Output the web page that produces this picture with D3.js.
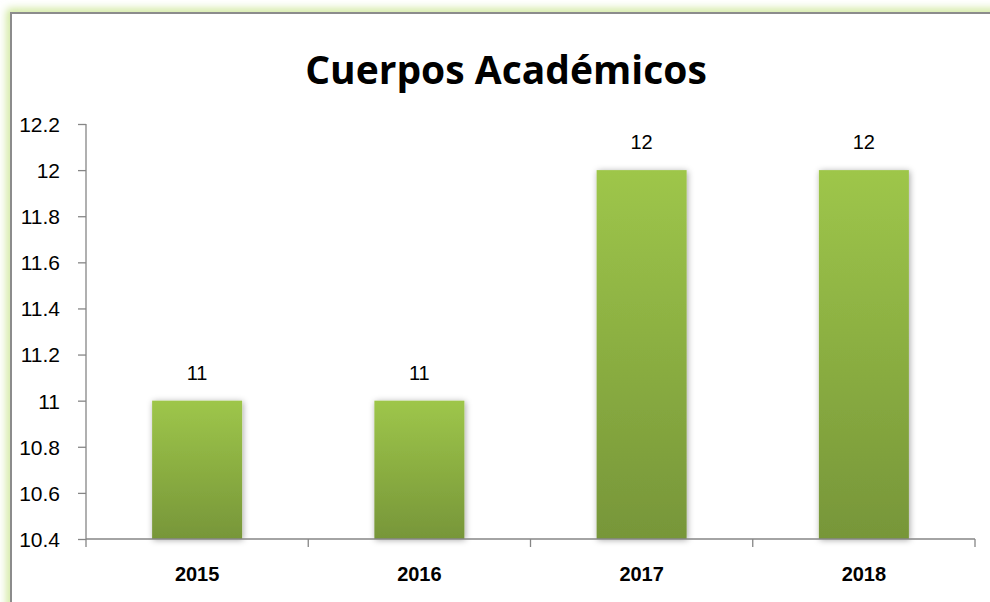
<!DOCTYPE html>
<html>
<head>
<meta charset="utf-8">
<script src="https://cdn.jsdelivr.net/npm/d3@7"></script>
<style>
  body { margin: 0; background: #fff; }
  svg { display: block; }
  .axis path, .axis line { stroke: #868686; stroke-width: 1.3; }
  .axis text { font-family: "Liberation Sans", Arial, sans-serif; fill: #000; }
</style>
</head>
<body>
<svg id="chart" width="990" height="602"></svg>
<script>
var years = ["2015", "2016", "2017", "2018"];
var values = [11, 11, 12, 12];
var yTicks = [10.4, 10.6, 10.8, 11, 11.2, 11.4, 11.6, 11.8, 12, 12.2];
var title = "Cuerpos Académicos";

var svg = d3.select("#chart");
var defs = svg.append("defs");

// outer glow of the frame
var glow = defs.append("filter").attr("id", "glow")
  .attr("x", "-5%").attr("y", "-5%").attr("width", "110%").attr("height", "110%");
glow.append("feGaussianBlur").attr("stdDeviation", 4);

var grad = defs.append("linearGradient").attr("id", "barGrad")
  .attr("x1", 0).attr("y1", 0).attr("x2", 0).attr("y2", 1);
grad.append("stop").attr("offset", "0%").attr("stop-color", "#9ec64a");
grad.append("stop").attr("offset", "100%").attr("stop-color", "#779639");

var shadow = defs.append("filter").attr("id", "shadow")
  .attr("x", "-20%").attr("y", "-10%").attr("width", "140%").attr("height", "120%");
shadow.append("feDropShadow").attr("dx", 1).attr("dy", 1).attr("stdDeviation", 3)
  .attr("flood-color", "#000").attr("flood-opacity", 0.35);

/* frame */
svg.append("rect").attr("x", 11).attr("y", 13).attr("width", 1000).attr("height", 620)
  .attr("fill", "none").attr("stroke", "#c9e58f").attr("stroke-width", 8)
  .attr("filter", "url(#glow)");
svg.append("rect").attr("x", 11).attr("y", 13).attr("width", 1000).attr("height", 620)
  .attr("fill", "#fff").attr("stroke", "#8c8c8c").attr("stroke-width", 2);

svg.append("text")
  .attr("x", 506).attr("y", 84)
  .attr("text-anchor", "middle")
  .style("font-family", "'Open Sans', 'Liberation Sans', sans-serif")
  .style("font-weight", "bold")
  .style("font-size", "39px")
  .text(title);

var plotLeft = 86, plotRight = 975, plotTop = 124, plotBottom = 539;

var x = d3.scaleBand().domain(years).range([plotLeft, plotRight]).paddingInner(0.595).paddingOuter(0.2975);
var y = d3.scaleLinear().domain([10.4, 12.2]).range([plotBottom, plotTop]);

/* bars */
svg.selectAll(".bar")
  .data(values)
  .enter().append("rect")
  .attr("class", "bar")
  .attr("x", function (d, i) { return x(years[i]); })
  .attr("y", function (d) { return y(d); })
  .attr("width", x.bandwidth())
  .attr("height", function (d) { return plotBottom - y(d); })
  .attr("fill", "url(#barGrad)")
  .attr("filter", "url(#shadow)");

/* data labels */
svg.selectAll(".lbl")
  .data(values)
  .enter().append("text")
  .attr("class", "lbl")
  .attr("x", function (d, i) { return x(years[i]) + x.bandwidth() / 2; })
  .attr("y", function (d) { return y(d) - 21; })
  .attr("text-anchor", "middle")
  .style("font-family", "'Liberation Sans', Arial, sans-serif")
  .style("font-size", "20px")
  .text(function (d) { return d; });

/* axes */
var yAxis = d3.axisLeft(y).tickValues(yTicks).tickSize(8).tickPadding(6)
  .tickFormat(function (d) { return d3.format("")(+d.toFixed(1)); });
var gy = svg.append("g").attr("class", "axis")
  .attr("transform", "translate(" + plotLeft + ",0)").call(yAxis);
gy.select(".domain").attr("d", "M0," + plotBottom + "V" + plotTop);
gy.selectAll("text").style("font-size", "21px").attr("dy", "0.35em");
gy.selectAll("text").attr("x", -26).attr("text-anchor", "end");

var xAxis = d3.axisBottom(x).tickSize(0).tickPadding(28);
var gx = svg.append("g").attr("class", "axis")
  .attr("transform", "translate(0," + plotBottom + ")").call(xAxis);
gx.select(".domain").attr("d", "M" + plotLeft + ",0H" + plotRight);
gx.selectAll("text").style("font-size", "20px").style("font-weight", "bold");

// category boundary ticks
var bounds = [plotLeft].concat(years.map(function (d) { return x(d) + x.bandwidth() / 2 + x.step() / 2; }));
gx.selectAll(".bound")
  .data(bounds)
  .enter().append("line")
  .attr("class", "bound")
  .attr("x1", function (d) { return d; }).attr("x2", function (d) { return d; })
  .attr("y1", 0).attr("y2", 8);
</script>
</body>
</html>
